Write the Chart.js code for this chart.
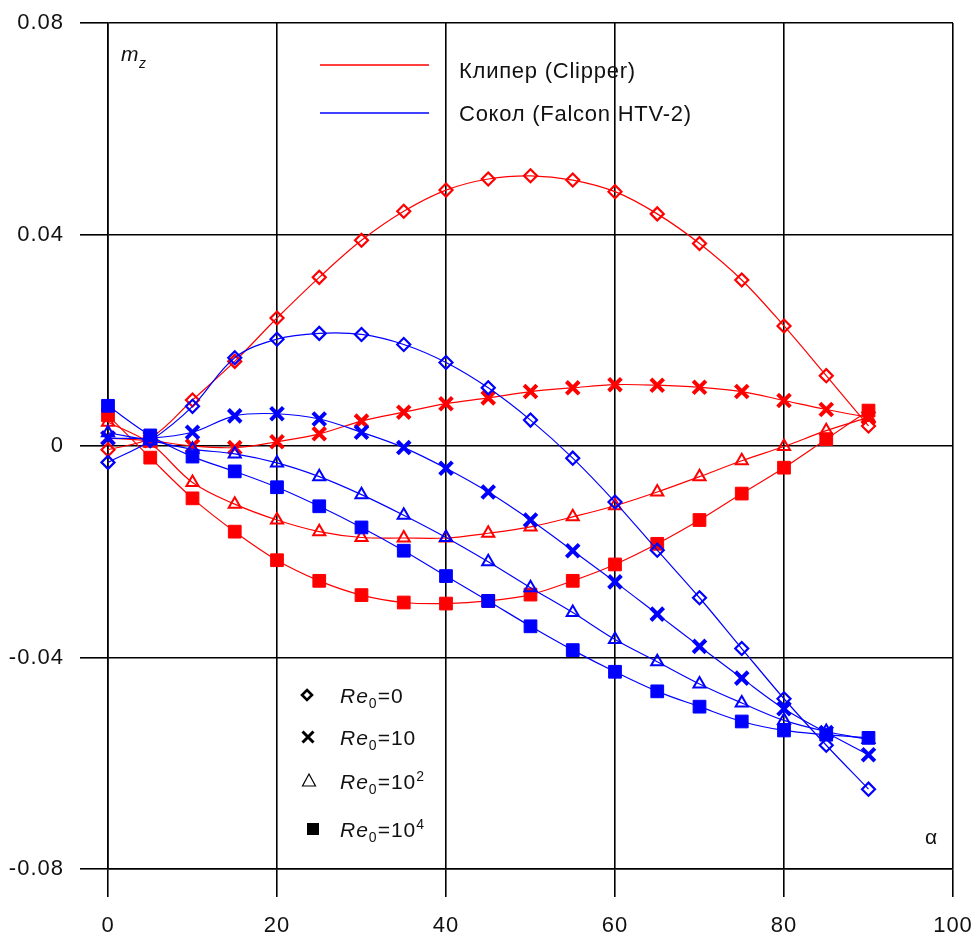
<!DOCTYPE html>
<html lang="ru">
<head>
<meta charset="UTF-8">
<title>m_z(α)</title>
<script src="https://cdn.jsdelivr.net/npm/chart.js"></script>
<style>
  html, body { margin: 0; padding: 0; background: #fff; }
</style>
</head>
<body>
<canvas id="mzChart" width="978" height="940"></canvas>
<script>
// angle of attack, deg
const alpha = [0, 5, 10, 15, 20, 25, 30, 35, 40, 45, 50, 55, 60, 65, 70, 75, 80, 85, 90];

// Клипер (Clipper)
const clipperRe0   = [-0.0007, 0.0015, 0.0087, 0.016, 0.0242, 0.0319, 0.0389, 0.0444, 0.0484, 0.0505, 0.0511, 0.0503, 0.0481, 0.0439, 0.0383, 0.0314, 0.0227, 0.0133, 0.0038];
const clipperRe10  = [0.0015, 0.001, 0.0, -0.0003, 0.0008, 0.0023, 0.0047, 0.0064, 0.008, 0.0091, 0.0103, 0.011, 0.0116, 0.0115, 0.0111, 0.0103, 0.0086, 0.0069, 0.0054];
const clipperRe100 = [0.0045, 0.0005, -0.0069, -0.011, -0.014, -0.0162, -0.0173, -0.0174, -0.0174, -0.0165, -0.0153, -0.0134, -0.0113, -0.0087, -0.0058, -0.0028, -0.0001, 0.0029, 0.0054];
const clipperRe1e4 = [0.0058, -0.0022, -0.0099, -0.0162, -0.0216, -0.0255, -0.0282, -0.0296, -0.0298, -0.0293, -0.0281, -0.0255, -0.0224, -0.0185, -0.014, -0.009, -0.0041, 0.0013, 0.0067];

// Сокол (Falcon HTV-2)
const falconRe0   = [-0.0031, 0.001, 0.0075, 0.0167, 0.0202, 0.0213, 0.0211, 0.0192, 0.0158, 0.011, 0.0049, -0.0023, -0.0106, -0.0197, -0.0287, -0.0383, -0.0478, -0.0566, -0.0649];
const falconRe10  = [0.0015, 0.0015, 0.0026, 0.0057, 0.0061, 0.0051, 0.0026, -0.0003, -0.0042, -0.0087, -0.014, -0.0198, -0.0257, -0.0318, -0.0379, -0.0439, -0.0497, -0.0542, -0.0584];
const falconRe100 = [0.0025, 0.001, -0.0006, -0.0015, -0.0032, -0.0058, -0.0092, -0.0131, -0.0173, -0.0219, -0.0268, -0.0315, -0.0366, -0.0408, -0.045, -0.0486, -0.0519, -0.054, -0.0555];
const falconRe1e4 = [0.0076, 0.002, -0.002, -0.0048, -0.0078, -0.0114, -0.0154, -0.0198, -0.0246, -0.0293, -0.0341, -0.0386, -0.0427, -0.0464, -0.0493, -0.0521, -0.0538, -0.0546, -0.0552];

const xTicks = [0, 20, 40, 60, 80, 100];
const yTicks = [-0.08, -0.04, 0, 0.04, 0.08];

const seriesNames = ['Клипер (Clipper)', 'Сокол (Falcon HTV-2)'];
const reValues = ['0', '10', '10', '10'];
const rePowers = ['', '', '2', '4'];

const RED = '#ff0000';
const BLUE = '#0000ff';
const FONT = "'Liberation Sans', Arial, sans-serif";

// marker per Reynolds number
const markers = [
  { pointStyle: 'rectRot', pointRadius: 6.5, pointBorderWidth: 2.2, filled: false },
  { pointStyle: 'crossRot', pointRadius: 9, pointBorderWidth: 4, filled: false },
  { pointStyle: 'triangle', pointRadius: 7, pointBorderWidth: 2, filled: false },
  { pointStyle: 'rect', pointRadius: 9, pointBorderWidth: 1, filled: true }
];

function series(values, color, m) {
  return {
    data: values.map((v, i) => ({ x: alpha[i], y: v })),
    borderColor: color,
    borderWidth: 1.2,
    tension: 0.35,
    pointStyle: m.pointStyle,
    pointRadius: m.pointRadius,
    pointBorderWidth: m.pointBorderWidth,
    pointBorderColor: color,
    pointBackgroundColor: m.filled ? color : 'rgba(0,0,0,0)',
    pointHoverRadius: m.pointRadius,
    clip: false
  };
}

const datasets = [
  series(falconRe0, BLUE, markers[0]),
  series(falconRe10, BLUE, markers[1]),
  series(falconRe100, BLUE, markers[2]),
  series(falconRe1e4, BLUE, markers[3]),
  series(clipperRe0, RED, markers[0]),
  series(clipperRe10, RED, markers[1]),
  series(clipperRe100, RED, markers[2]),
  series(clipperRe1e4, RED, markers[3])
];

// legend glyphs drawn in black
function drawMarker(ctx, kind, x, y) {
  ctx.save();
  ctx.strokeStyle = '#000';
  ctx.fillStyle = '#000';
  ctx.beginPath();
  if (kind === 0) {
    const r = 5;
    ctx.lineWidth = 2.6;
    ctx.moveTo(x, y - r); ctx.lineTo(x + r, y); ctx.lineTo(x, y + r); ctx.lineTo(x - r, y); ctx.closePath();
    ctx.stroke();
  } else if (kind === 1) {
    const r = 5.5;
    ctx.lineWidth = 3;
    ctx.moveTo(x - r, y - r); ctx.lineTo(x + r, y + r);
    ctx.moveTo(x + r, y - r); ctx.lineTo(x - r, y + r);
    ctx.stroke();
  } else if (kind === 2) {
    ctx.lineWidth = 1.2;
    ctx.moveTo(x, y - 7); ctx.lineTo(x + 6.5, y + 5); ctx.lineTo(x - 6.5, y + 5); ctx.closePath();
    ctx.stroke();
  } else {
    ctx.fillRect(x - 6, y - 6, 12, 12);
  }
  ctx.restore();
}

// slightly wider text, like the old GDI rendering
const spacing = {
  id: 'spacing',
  beforeDraw(chart) { chart.ctx.letterSpacing = '1px'; }
};

const overlay = {
  id: 'overlay',
  afterDraw(chart) {
    const ctx = chart.ctx;
    ctx.save();
    ctx.fillStyle = '#111';
    ctx.textBaseline = 'alphabetic';
    ctx.textAlign = 'left';
    ctx.letterSpacing = '0px';

    // axis names
    ctx.font = 'italic 21px ' + FONT;
    ctx.fillText('m', 121, 61);
    ctx.font = 'italic 14px ' + FONT;
    ctx.fillText('z', 139, 68);
    ctx.font = '21px ' + FONT;
    ctx.textAlign = 'center';
    ctx.fillText('α', 931, 844);

    // craft legend
    const lineY = [65, 113];
    const textY = [72, 115];
    [RED, BLUE].forEach((c, i) => {
      ctx.strokeStyle = c;
      ctx.lineWidth = 1.5;
      ctx.beginPath();
      ctx.moveTo(320, lineY[i]);
      ctx.lineTo(429, lineY[i]);
      ctx.stroke();
      ctx.font = '22px ' + FONT;
      ctx.letterSpacing = '0.75px';
      ctx.textAlign = 'left';
      ctx.textBaseline = 'middle';
      ctx.fillStyle = '#111';
      ctx.fillText(seriesNames[i], 459, textY[i]);
    });

    // Reynolds number legend
    const rowY = [695, 737, 781, 829];
    const markX = [307, 308, 309, 313];
    ctx.textBaseline = 'alphabetic';
    ctx.letterSpacing = '1px';
    rowY.forEach((y, i) => {
      drawMarker(ctx, i, markX[i], y);
      let x = 340;
      const base = y + 8;
      ctx.font = 'italic 21px ' + FONT;
      ctx.fillText('Re', x, base);
      x += ctx.measureText('Re').width;
      ctx.font = '14px ' + FONT;
      ctx.fillText('0', x, base + 5);
      x += ctx.measureText('0').width;
      ctx.font = '21px ' + FONT;
      const s = '=' + reValues[i];
      ctx.fillText(s, x, base);
      x += ctx.measureText(s).width;
      if (rePowers[i]) {
        ctx.font = '14px ' + FONT;
        ctx.fillText(rePowers[i], x, base - 8);
      }
    });
    ctx.restore();
  }
};

function noEdgePadding(s) {
  s.paddingTop = 0;
  s.paddingBottom = 0;
  s.paddingLeft = 0;
  s.paddingRight = 0;
}

new Chart(document.getElementById('mzChart'), {
  type: 'line',
  data: { datasets: datasets },
  plugins: [spacing, overlay],
  options: {
    responsive: false,
    animation: false,
    events: [],
    layout: { padding: { top: 23, right: 25, left: 0, bottom: 0 } },
    plugins: { legend: { display: false }, tooltip: { enabled: false } },
    scales: {
      x: {
        type: 'linear',
        min: 0,
        max: 100,
        afterBuildTicks: s => { s.ticks = xTicks.map(v => ({ value: v })); },
        afterFit: s => { s.height = 71; noEdgePadding(s); },
        grid: { color: '#000', lineWidth: 1.6, tickLength: 28, tickColor: '#000' },
        border: { color: '#000', width: 1.6 },
        ticks: { color: '#111', font: { family: FONT, size: 22 }, padding: 16, maxRotation: 0 }
      },
      y: {
        type: 'linear',
        min: -0.08,
        max: 0.08,
        afterBuildTicks: s => { s.ticks = yTicks.map(v => ({ value: v })); },
        afterFit: s => { s.width = 108; noEdgePadding(s); },
        grid: { color: '#000', lineWidth: 1.6, tickLength: 28, tickColor: '#000' },
        border: { color: '#000', width: 1.6 },
        ticks: {
          color: '#111',
          font: { family: FONT, size: 22 },
          padding: 16,
          callback: v => (v === 0 ? '0' : v.toFixed(2))
        }
      }
    }
  }
});
</script>
</body>
</html>
